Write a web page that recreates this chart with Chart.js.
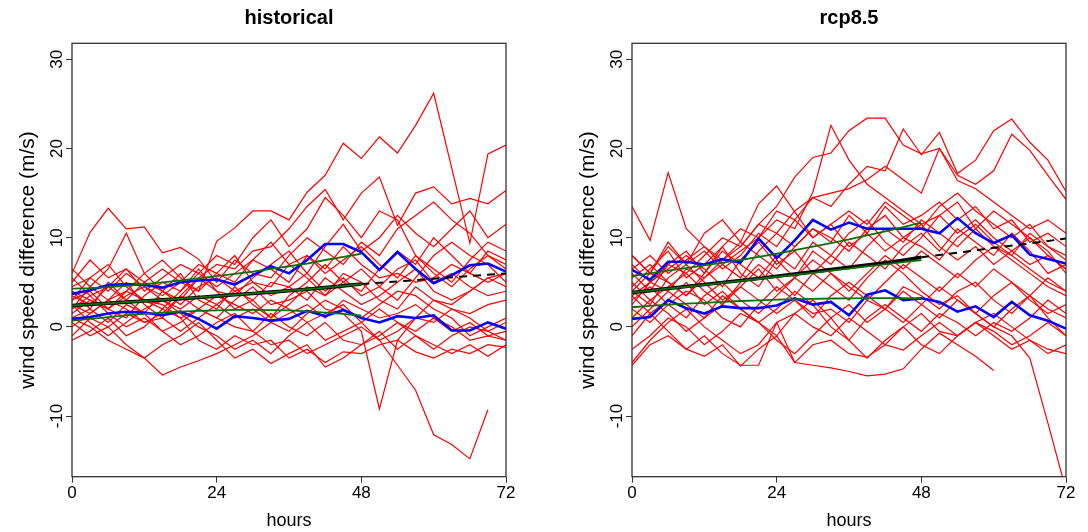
<!DOCTYPE html>
<html>
<head>
<meta charset="utf-8">
<script src="https://cdn.jsdelivr.net/npm/chart.js@4.4.0/dist/chart.umd.min.js"></script>
<style>
  body { margin: 0; background: #fff; width: 1088px; height: 532px; overflow: hidden; position: relative; }
  canvas { position: absolute; top: 0; }
</style>
</head>
<body>
<canvas id="hist" width="544" height="532" style="left:0"></canvas>
<canvas id="rcp" width="544" height="532" style="left:560px"></canvas>
<script>
// lead time (hours), every 3 h
const hours = [0, 3, 6, 9, 12, 15, 18, 21, 24, 27, 30, 33, 36, 39, 42, 45, 48, 51, 54, 57, 60, 63, 66, 69, 72];
const fitHours = [0, 3, 6, 9, 12, 15, 18, 21, 24, 27, 30, 33, 36, 39, 42, 45, 48];
const xTicks = [0, 24, 48, 72];
const yTicks = [-10, 0, 10, 20, 30];

// ---- historical ----
const histRed = [
  [3.0, 5.5, 4.0, 6.0, 4.5, 3.5, 5.0, 4.0, 9.6, 11.1, 13.0, 13.0, 12.0, 15.1, 17.0, 20.6, 18.9, 21.3, 19.5, 22.6, 26.2, 17.8, 9.4, 19.4, 20.4],
  [6.0, 10.6, 13.3, 11.0, 11.2, 8.3, 8.9, 7.6, 5.0, 7.5, 6.0, 5.5, 8.0, 10.0, 8.5, 7.0, 9.5, 8.0, 11.0, 12.5, 14.0, 12.0, 10.5, 8.0, 6.5],
  [2.0, 4.5, 6.5, 10.5, 6.0, 4.0, 3.0, 5.5, 7.0, 6.5, 8.5, 9.0, 11.0, 13.5, 15.4, 12.0, 15.0, 16.8, 11.4, 15.0, 15.7, 13.8, 14.4, 13.8, 15.3],
  [4.0, 3.0, 2.0, 1.0, 3.5, 5.0, 4.0, 6.0, 8.0, 7.0, 10.0, 12.0, 9.0, 11.0, 14.5, 12.5, 10.0, 13.0, 12.0, 8.0, 6.5, 5.0, 7.5, 9.5, 8.5],
  [1.0, 0.0, -1.5, -2.5, -3.5, -5.4, -4.5, -3.8, -3.0, -2.0, -1.0, 0.5, -0.5, 1.5, 3.0, 2.0, 1.0, 2.5, 4.0, 3.5, 2.0, 1.0, -1.0, 0.0, 1.0],
  [2.5, 1.5, 3.0, 2.0, 0.5, 1.5, 3.5, 2.0, 1.0, 3.0, 4.5, 2.5, 3.0, 4.0, 2.0, 1.5, -0.5, -9.2, -1.5, 1.0, 3.0, 2.5, 4.0, 5.5, 4.5],
  [1.5, 3.0, 2.0, 4.0, 3.0, 2.5, 1.0, 2.0, 3.5, 2.5, 1.5, 3.0, 2.0, 0.5, 1.5, 2.5, 0.5, -1.5, -4.3, -7.1, -12.1, -13.2, -14.8, -9.3, null],
  [-1.5, -0.5, 1.0, -1.0, 0.0, 2.0, 1.0, -1.5, -2.5, -1.0, -2.0, -1.5, -3.5, -2.5, -4.0, -2.8, -3.0, -2.0, -1.5, -2.8, -3.5, -2.5, -3.0, -2.0, -2.3],
  [5.0, 7.5, 5.5, 6.5, 4.0, 5.5, 7.0, 6.0, 4.5, 6.0, 7.5, 6.5, 5.0, 8.0, 6.5, 9.0, 7.0, 5.5, 6.0, 5.0, 5.5, 7.0, 6.0, 5.0, 6.0],
  [3.5, 2.5, 4.5, 3.0, 5.0, 4.0, 2.5, 4.5, 5.5, 4.0, 3.0, 5.0, 4.5, 6.0, 4.0, 5.5, 3.5, 4.5, 6.5, 7.5, 5.0, 6.0, 4.5, 3.5, 4.0],
  [0.0, 1.5, 3.0, 5.0, 2.5, 1.0, 3.5, 5.5, 4.0, 2.0, 3.0, 1.0, 2.5, 4.5, 3.5, 6.0, 5.0, 3.0, 2.0, 4.5, 3.0, 2.0, 1.5, 2.5, 3.0],
  [6.5, 4.5, 3.0, 4.0, 6.0, 7.5, 5.5, 4.0, 6.0, 8.0, 5.0, 4.5, 7.0, 5.5, 3.5, 5.0, 6.5, 4.5, 3.0, 5.5, 8.0, 9.5, 8.0, 7.0, 5.0],
  [2.5, 0.5, -1.0, 0.5, 2.0, 3.0, 1.5, 0.0, -1.0, -2.5, -1.5, -3.0, -1.0, 0.5, -1.5, -0.5, 0.5, 2.0, 0.5, -0.5, 1.0, 0.0, -1.5, -1.0, -1.5],
  [4.5, 5.5, 7.0, 4.5, 3.0, 2.0, 4.0, 6.5, 4.0, 3.5, 5.5, 7.0, 8.5, 6.0, 9.0, 11.5, 8.5, 10.0, 12.5, 10.5, 9.0, 11.0, 13.0, 10.0, 11.5],
  [1.0, 2.0, 0.5, 2.5, 1.5, -0.5, 0.5, 2.0, 1.0, 0.0, -0.5, 1.5, 0.0, -1.0, 0.5, -1.5, -2.0, -1.0, 0.5, -1.0, -2.5, -1.0, 0.0, -0.5, 0.5],
  [3.0, 4.0, 2.0, 3.5, 4.5, 3.0, 2.0, 3.5, 2.5, 4.0, 5.0, 3.5, 4.5, 3.0, 5.5, 4.0, 2.5, 3.5, 5.0, 6.5, 4.0, 3.0, 4.0, 5.5, 6.0],
  [4.0, 2.0, 5.0, 3.0, 1.5, 4.0, 6.0, 3.0, 2.0, 4.5, 2.5, 1.0, 3.5, 5.0, 7.0, 5.0, 4.0, 6.5, 8.5, 7.0, 10.0, 8.0, 6.0, 8.5, 7.5],
  [2.0, 3.5, 1.5, 0.0, 1.0, -0.5, -2.0, -1.0, 0.5, 1.5, -0.5, -2.0, -1.5, -3.0, -2.0, -1.0, 0.0, -1.5, -0.5, 1.0, 0.5, 2.0, 1.0, -0.5, -1.5],
  [5.5, 3.5, 4.5, 6.5, 5.0, 6.5, 5.0, 7.0, 6.0, 5.0, 7.5, 9.5, 7.0, 8.0, 6.0, 7.5, 9.0, 7.0, 5.5, 8.0, 6.0, 4.5, 6.5, 8.0, 7.0],
  [0.5, -1.0, 0.0, 1.5, 0.5, 1.0, -0.5, 1.0, 2.5, 1.0, 2.0, 0.5, 1.5, 2.5, 1.0, 3.0, 2.0, 1.0, 1.5, 2.5, 1.0, -0.5, 0.5, -1.0, -0.5],
  [-1.0, 1.0, 0.0, -2.0, -3.5, -2.0, -1.0, 0.5, -1.5, -3.5, -2.5, -4.1, -3.0, -2.0, -4.5, -3.5, -2.0, -0.5, -2.5, -1.0, -2.0, -3.0, -2.0, -3.3, -2.0]
];
const histBlueHi = [3.7, 4.1, 4.7, 4.8, 4.7, 4.4, 5.0, 5.2, 5.3, 4.75, 5.8, 6.8, 6.0, 7.5, 9.3, 9.3, 8.4, 6.4, 8.4, 6.5, 4.9, 5.8, 6.9, 7.1, 6.2];
const histBlueLo = [0.9, 1.1, 1.5, 1.7, 1.6, 1.3, 1.7, 0.9, -0.2, 1.2, 1.0, 0.7, 0.9, 1.8, 1.2, 1.9, 1.0, 0.5, 1.2, 1.0, 1.3, -0.4, -0.4, 0.5, -0.2];
const histGreenHi = [4.3, 4.35, 4.45, 4.6, 4.8, 5.0, 5.2, 5.45, 5.7, 5.95, 6.2, 6.5, 6.8, 7.1, 7.5, 7.85, 8.2];
const histGreenMid = [2.4, 2.52, 2.65, 2.78, 2.9, 3.03, 3.16, 3.3, 3.45, 3.6, 3.75, 3.9, 4.05, 4.22, 4.4, 4.6, 4.8];
const histGreenLo = [0.7, 0.9, 1.1, 1.3, 1.45, 1.6, 1.7, 1.8, 1.85, 1.9, 1.9, 1.88, 1.85, 1.75, 1.6, 1.45, 1.25];
const histMean = [2.4, 2.52, 2.65, 2.78, 2.9, 3.03, 3.16, 3.3, 3.45, 3.6, 3.75, 3.9, 4.05, 4.22, 4.4, 4.6, 4.8];
const histDashHours = [48, 72];
const histDash = [4.8, 6.0];

// ---- rcp8.5 ----
const rcpRed = [
  [3.5, 5.0, 4.0, 6.5, 5.5, 7.5, 9.0, 11.5, 13.5, 16.8, 19.0, 19.5, 22.0, 23.4, 23.4, 20.4, 19.4, 20.0, 16.4, 15.5, 14.0, 12.5, 11.0, 12.0, 10.5],
  [4.0, 6.0, 5.0, 3.5, 5.5, 7.0, 8.5, 10.0, 12.0, 11.0, 15.1, 22.6, 18.7, 16.0, 14.5, 13.0, 11.5, 12.5, 14.0, 11.0, 9.0, 8.0, 6.5, 5.0, 4.0],
  [6.0, 4.0, 7.0, 8.5, 6.0, 9.0, 11.0, 10.0, 13.0, 12.0, 14.5, 13.5, 16.0, 18.0, 17.5, 22.2, 19.3, 21.8, 17.2, 18.7, 22.0, 23.3, 20.7, 18.7, 15.2],
  [2.5, 5.0, 7.0, 6.0, 8.0, 10.0, 9.0, 11.5, 10.5, 13.0, 14.5, 15.0, 15.5, 16.5, 18.0, 16.5, 15.0, 20.0, 17.0, 16.0, 17.5, 21.6, 19.8, 17.0, 14.3],
  [13.5, 9.7, 17.3, 11.0, 9.0, 7.5, 9.5, 8.0, 6.5, 9.0, 11.0, 10.0, 8.5, 11.0, 12.5, 10.0, 9.0, 7.5, 10.0, 11.5, 9.5, 8.0, 10.5, 9.0, 7.5],
  [5.0, 3.0, 4.5, 6.0, 4.0, 2.5, 5.0, 7.0, 5.5, 3.5, 6.0, 4.5, 3.0, 5.5, 7.5, 6.0, 4.0, 2.5, 3.5, 1.5, 0.0, -1.0, -3.5, -10.8, -18.3],
  [-1.0, 1.5, -0.5, -2.5, -1.0, -3.0, -4.3, -4.3, 0.5, -4.0, -4.3, -4.6, -5.0, -5.5, -5.3, -4.7, -2.5, -0.7, -2.0, -3.3, -4.9, null, null, null, null],
  [-4.0, -1.5, 0.5, 2.0, 0.0, -1.5, -3.0, -2.0, 0.5, 1.5, 0.0, -1.0, 1.0, -0.5, -2.0, 0.0, 1.5, -0.5, -1.0, 0.5, 1.5, 0.0, -1.5, -2.5, -3.0],
  [6.5, 8.0, 6.0, 7.5, 9.0, 7.0, 5.5, 8.5, 10.5, 9.0, 11.0, 9.5, 12.5, 10.5, 13.5, 11.5, 12.5, 14.0, 12.0, 13.5, 11.0, 12.0, 9.5, 10.5, 9.0],
  [2.0, 0.5, 2.5, 4.0, 3.0, 1.0, 0.0, 2.5, 4.5, 3.0, 1.5, 2.0, 0.5, 3.0, 2.0, 4.5, 3.5, 2.0, 4.0, 5.0, 3.0, 1.5, 3.5, 2.0, 1.0],
  [4.5, 6.5, 8.5, 5.5, 7.0, 9.0, 6.0, 4.5, 7.5, 5.5, 8.5, 7.0, 9.5, 8.0, 6.5, 9.0, 10.5, 8.5, 11.0, 9.5, 8.0, 10.5, 8.5, 6.0, 7.0],
  [1.0, 3.0, 1.5, -0.5, 1.0, 3.5, 2.0, 0.5, -1.0, 1.5, 3.0, 1.0, 2.5, 0.5, 2.0, 4.0, 2.5, 1.0, 3.0, 1.5, 0.0, 2.0, 3.5, 1.0, -1.0],
  [7.0, 5.0, 6.5, 8.0, 6.5, 4.5, 7.5, 9.5, 7.0, 8.5, 6.0, 8.0, 10.5, 12.0, 9.5, 8.0, 10.0, 12.5, 10.5, 12.0, 10.0, 8.5, 7.0, 8.0, 6.5],
  [3.0, 4.5, 2.5, 1.0, 3.5, 5.0, 3.0, 1.5, 3.5, 5.5, 4.0, 6.0, 4.5, 3.0, 5.0, 7.0, 5.5, 4.0, 6.0, 4.5, 6.5, 5.0, 3.5, 5.5, 4.0],
  [-2.5, -1.0, 1.0, 0.0, -2.0, -0.5, 1.5, 0.5, -1.5, -3.0, -1.0, 1.0, -1.5, -3.5, -1.5, 0.0, -2.0, -3.0, -1.0, 0.5, -1.0, -2.5, -1.5, -3.0, -2.0],
  [5.5, 7.0, 5.0, 3.5, 6.0, 8.5, 7.0, 5.5, 8.0, 6.5, 9.5, 8.0, 6.5, 9.0, 11.0, 9.5, 12.0, 10.5, 9.0, 11.0, 13.0, 11.5, 10.0, 8.5, 6.0],
  [0.0, 2.0, 4.0, 2.5, 1.0, 2.5, 4.5, 3.0, 1.5, 3.0, 1.0, 3.5, 5.0, 3.5, 2.0, 0.5, 2.5, 4.5, 3.0, 1.5, 3.5, 5.0, 3.0, 1.5, 2.5],
  [8.0, 6.0, 9.0, 7.0, 8.5, 6.5, 8.0, 10.5, 9.0, 12.0, 10.0, 11.5, 13.0, 11.5, 14.0, 12.5, 11.0, 13.5, 15.0, 13.0, 11.5, 10.0, 11.5, 9.0, 8.0],
  [3.5, 1.5, 3.0, 5.0, 2.5, 4.0, 2.0, 0.5, 2.0, 4.0, 2.5, 0.0, -1.5, 1.0, 2.5, 1.0, -0.5, 1.5, 0.5, -1.0, 0.5, -0.5, 1.0, 3.0, 1.5],
  [4.0, 2.5, 5.5, 7.0, 5.0, 3.0, 4.5, 6.5, 4.0, 5.5, 7.5, 6.0, 4.0, 6.0, 8.0, 6.5, 8.5, 7.0, 5.5, 7.5, 9.0, 7.5, 6.0, 4.5, 3.5],
  [-4.3, -2.0, -1.0, -2.5, -3.3, -2.0, -4.4, -2.5, -1.0, -4.0, -2.0, -1.5, -3.0, -3.4, -2.0, -2.6, -1.0, 0.5, -1.0, 0.5, -0.5, -2.0, -1.0, 0.5, -1.0],
  [8.0, 6.0, 9.5, 7.0, 10.5, 12.0, 9.5, 13.8, 15.8, 12.9, 10.0, 11.5, 9.0, 10.5, 8.5, 10.0, 11.5, 9.0, 7.5, 9.0, 7.0, 8.5, 10.0, 8.0, 6.5]
];
const rcpBlueHi = [6.4, 5.3, 7.3, 7.3, 7.0, 7.6, 7.2, 9.9, 7.7, 9.7, 12.0, 10.9, 11.7, 11.0, 11.0, 11.0, 11.0, 10.5, 12.2, 10.5, 9.4, 10.3, 8.1, 7.6, 7.1];
const rcpBlueLo = [0.9, 1.1, 3.0, 2.1, 1.5, 2.3, 2.1, 2.1, 2.4, 3.2, 2.5, 2.8, 1.3, 3.6, 4.1, 3.0, 3.2, 2.8, 1.7, 2.3, 1.1, 2.8, 1.3, 0.7, -0.2];
const rcpGreenHi = [5.7, 6.0, 6.3, 6.6, 6.9, 7.2, 7.5, 7.85, 8.2, 8.6, 9.0, 9.4, 9.8, 10.25, 10.7, 11.2, 11.7];
const rcpGreenMid = [3.85, 4.06, 4.28, 4.49, 4.71, 4.93, 5.15, 5.37, 5.6, 5.83, 6.06, 6.3, 6.54, 6.78, 7.02, 7.26, 7.5];
const rcpGreenLo = [2.2, 2.35, 2.5, 2.6, 2.7, 2.8, 2.9, 2.97, 3.05, 3.1, 3.15, 3.18, 3.2, 3.22, 3.22, 3.22, 3.2];
const rcpMean = [3.85, 4.07, 4.3, 4.52, 4.75, 4.98, 5.2, 5.43, 5.67, 5.92, 6.17, 6.42, 6.68, 6.94, 7.2, 7.48, 7.8];
const rcpDashHours = [48, 72];
const rcpDash = [7.8, 9.9];

Chart.defaults.font.family = "'Liberation Sans', Arial, sans-serif";
Chart.defaults.color = '#000';

function pts(xs, ys) {
  return xs.map((h, i) => ({ x: h, y: ys[i] }));
}

function makePanel(id, title, red, blueHi, blueLo, greenHi, greenMid, greenLo, mean, dashX, dashY) {
  const datasets = [];
  red.forEach(r => datasets.push({ data: pts(hours, r), borderColor: '#ff0000', borderWidth: 1.2, order: 5 }));
  [blueHi, blueLo].forEach(b => datasets.push({ data: pts(hours, b), borderColor: '#0000ff', borderWidth: 2.6, order: 3 }));
  datasets.push({ data: pts(fitHours, mean), borderColor: '#000000', borderWidth: 3.6, order: 2 });
  datasets.push({ data: pts(dashX, dashY), borderColor: '#000000', borderWidth: 2, borderDash: [8, 6], order: 2 });
  [greenHi, greenMid, greenLo].forEach(g => datasets.push({ data: pts(fitHours, g), borderColor: '#0b6e0b', borderWidth: 1.8, order: 1 }));

  const frame = {
    id: 'frame',
    afterDatasetsDraw(chart) {
      const a = chart.chartArea, c = chart.ctx;
      c.save();
      c.strokeStyle = '#333';
      c.lineWidth = 1.3;
      c.strokeRect(a.left, a.top, a.right - a.left, a.bottom - a.top);
      c.restore();
    },
    afterDraw(chart) {
      const a = chart.chartArea, c = chart.ctx;
      c.save();
      c.font = "bold 20px 'Liberation Sans', Arial, sans-serif";
      c.fillStyle = '#000';
      c.textAlign = 'center';
      c.textBaseline = 'middle';
      c.fillText(title, (a.left + a.right) / 2, 18);
      c.restore();
    }
  };

  new Chart(document.getElementById(id), {
    type: 'line',
    data: { datasets },
    options: {
      responsive: false,
      animation: false,
      layout: { padding: { top: 43.3, left: 0, right: 38, bottom: 0 } },
      elements: { point: { radius: 0 }, line: { tension: 0 } },
      plugins: { legend: { display: false }, tooltip: { enabled: false } },
      scales: {
        x: {
          type: 'linear', min: 0, max: 72,
          afterBuildTicks: s => { s.ticks = xTicks.map(v => ({ value: v })); },
          afterFit: s => { s.height = 55.3; },
          grid: { drawOnChartArea: false, drawTicks: true, tickLength: 6, color: '#333' },
          border: { display: false },
          ticks: { font: { size: 17 }, color: '#000', padding: 0, maxRotation: 0 },
          title: { display: true, text: 'hours', font: { size: 18 }, color: '#000', padding: { top: 0, bottom: 0 } }
        },
        y: {
          min: -16.8, max: 31.8,
          afterBuildTicks: s => { s.ticks = yTicks.map(v => ({ value: v })); },
          afterFit: s => { s.width = 72; },
          grid: { drawOnChartArea: false, drawTicks: true, tickLength: 6, color: '#333' },
          border: { display: false },
          ticks: { font: { size: 17 }, color: '#000', padding: -4, minRotation: 90, maxRotation: 90, crossAlign: 'center' },
          title: { display: true, text: 'wind speed difference (m/s)', font: { size: 21 }, color: '#000', padding: { top: 16, bottom: 0 } }
        }
      }
    },
    plugins: [frame]
  });
}

makePanel('hist', 'historical', histRed, histBlueHi, histBlueLo, histGreenHi, histGreenMid, histGreenLo, histMean, histDashHours, histDash);
makePanel('rcp', 'rcp8.5', rcpRed, rcpBlueHi, rcpBlueLo, rcpGreenHi, rcpGreenMid, rcpGreenLo, rcpMean, rcpDashHours, rcpDash);
</script>
</body>
</html>
